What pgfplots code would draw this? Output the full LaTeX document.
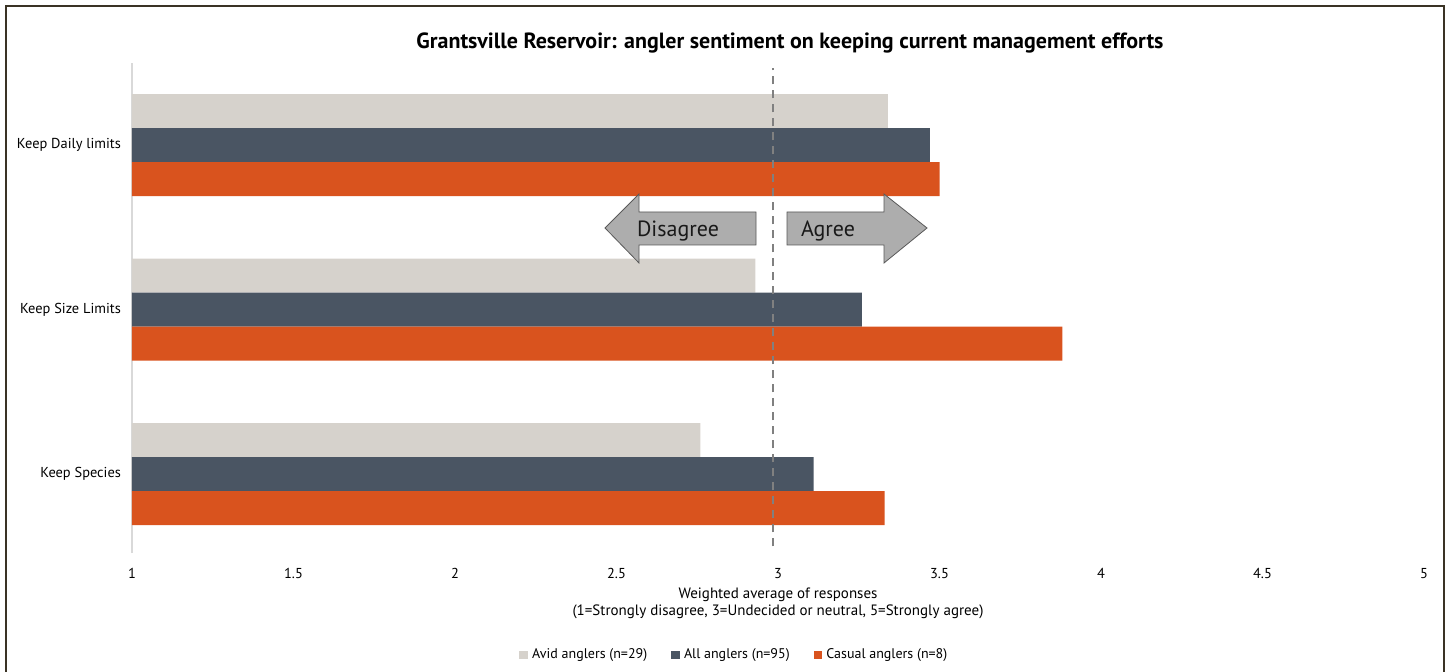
\documentclass[border=0pt]{standalone}
\usepackage{pgfplots}
\pgfplotsset{compat=1.18}
\usepackage{fontspec}
\setmainfont{PT Sans}
\definecolor{avid}{HTML}{D6D2CC}
\definecolor{allang}{HTML}{4A5563}
\definecolor{casual}{HTML}{D9531E}
\definecolor{framec}{HTML}{3A3325}
\definecolor{arrowfill}{HTML}{ADADAD}

% categories: 0 = Keep Species, 1 = Keep Size Limits, 2 = Keep Daily limits
\begin{document}
\begin{tikzpicture}
\useasboundingbox (0,0) rectangle (724.5pt,-336pt);
\begin{axis}[
    at={(66pt,-276.5pt)}, anchor=south west,
    scale only axis, width=646pt, height=245pt,
    xmin=1, xmax=5, ymin=-0.48, ymax=2.5,
    xtick={1,1.5,...,5},
    ytick={0,1,2},
    yticklabels={Keep Species, Keep Size Limits, Keep Daily limits},
    major tick length=0pt,
    axis lines*=left,
    x axis line style={draw=none},
    y axis line style={draw=black!15, line width=0.8pt},
    /pgf/number format/assume math mode=true,
    ticklabel style={font=\fontsize{7.2}{8}\selectfont, text=black},
    xticklabel style={yshift=-4pt},
    yticklabel style={xshift=-2pt},
    xlabel={Weighted average of responses\\(1=Strongly disagree, 3=Undecided or neutral, 5=Strongly agree)},
    xlabel style={align=center, font=\fontsize{7.5}{8.5}\selectfont, yshift=2pt},
    bar width=17pt,
    legend columns=3,
    legend style={at={(0.467,-0.208)}, anchor=center, draw=none,
        font=\fontsize{7}{8}\selectfont,
        /tikz/every even column/.append style={column sep=10pt}},
    legend image code/.code={\fill[#1,draw=none] (0pt,-2.2pt) rectangle (4.4pt,2.2pt);},
    clip=false,
]
\addplot[xbar, fill=avid, draw=none, bar shift=17pt] coordinates {(2.76,0) (2.93,1) (3.34,2)};
\addplot[xbar, fill=allang, draw=none, bar shift=0pt] coordinates {(3.11,0) (3.26,1) (3.47,2)};
\addplot[xbar, fill=casual, draw=none, bar shift=-17pt] coordinates {(3.33,0) (3.88,1) (3.50,2)};
\legend{Avid anglers (n=29), All anglers (n=95), Casual anglers (n=8)}
\addplot[sharp plot, forget plot, gray, line width=1pt, dash pattern=on 4pt off 3pt] coordinates {(2.985,-0.44) (2.985,2.47)};
\end{axis}
\begin{scope}[x=0.5pt, y=-0.5pt]
  \draw[framec, line width=1pt] (6,680) -- (6,6) -- (1444,6) -- (1444,680);
  \node[font=\bfseries\fontsize{11}{12}\selectfont] at (790,43) {Grantsville Reservoir: angler sentiment on keeping current management efforts};
  \draw[fill=arrowfill, draw=black!65, line width=0.4pt]
    (756,212) -- (639,212) -- (639,194) -- (605,228) -- (639,263) -- (639,245) -- (756,245) -- cycle;
  \draw[fill=arrowfill, draw=black!65, line width=0.4pt]
    (787,212) -- (884,212) -- (884,194) -- (927,228) -- (884,263) -- (884,245) -- (787,245) -- cycle;
  \node[font=\fontsize{11}{12}\selectfont, text=black!90] at (678,231) {Disagree};
  \node[font=\fontsize{11}{12}\selectfont, text=black!90] at (828,231) {Agree};
\end{scope}
\end{tikzpicture}
\end{document}
